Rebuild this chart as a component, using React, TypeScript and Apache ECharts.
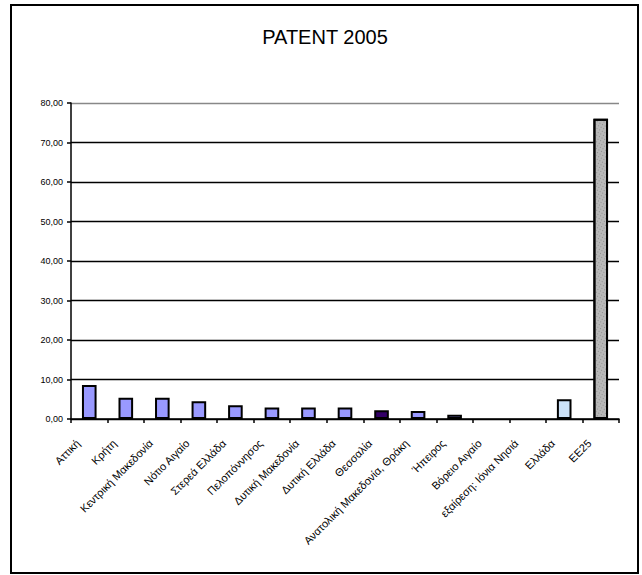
import React, { useEffect, useRef } from "react";
import * as echarts from "echarts";

const categories = [
  "Αττική",
  "Κρήτη",
  "Κεντρική Μακεδονία",
  "Νότιο Αιγαίο",
  "Στερεά Ελλάδα",
  "Πελοπόννησος",
  "Δυτική Μακεδονία",
  "Δυτική Ελλάδα",
  "Θεσσαλία",
  "Ανατολική Μακεδονία, Θράκη",
  "Ήπειρος",
  "Βόρειο Αιγαίο",
  "εξαίρεση: Ιόνια Νησιά",
  "Ελλάδα",
  "ΕΕ25",
];
const values = [8.6, 5.4, 5.4, 4.5, 3.5, 2.9, 2.9, 2.9, 2.2, 2.0, 1.1, 0, 0, 5.0, 76.0];
const barColors = [
  "#9999FF", "#9999FF", "#9999FF", "#9999FF", "#9999FF", "#9999FF", "#9999FF", "#9999FF",
  "#330066", "#9999FF", "#9999FF", "#9999FF", "#9999FF", "#CCE2F8", "#B8B8B8",
];
const yTicks = [0, 10, 20, 30, 40, 50, 60, 70, 80];
const title = "PATENT 2005";

export default function App() {
  const ref = useRef<HTMLDivElement>(null);
  useEffect(() => {
    if (!ref.current) return;
    const chart = echarts.init(ref.current, undefined, { renderer: "svg" });
    const font = "Liberation Sans, Arial, sans-serif";
    chart.setOption({
      animation: false,
      backgroundColor: "#fff",
      aria: { enabled: false, decal: { show: false } },
      graphic: [
        {
          type: "rect",
          shape: { x: 11, y: 5, width: 627, height: 568 },
          style: { fill: "none", stroke: "#000", lineWidth: 2 },
          z: -1,
        },
        {
          type: "text",
          x: 325,
          y: 37,
          style: {
            text: title,
            font: `20px ${font}`,
            fill: "#000",
            textAlign: "center",
            textVerticalAlign: "middle",
          },
        },
      ],
      grid: { left: 71, right: 23, top: 103, bottom: 156, containLabel: false },
      xAxis: {
        type: "category",
        data: categories,
        axisLine: { lineStyle: { color: "#000", width: 1.5 } },
        axisTick: { show: true, length: 4, lineStyle: { color: "#000", width: 1.5 }, alignWithLabel: false },
        axisLabel: {
          interval: 0,
          rotate: 45,
          fontSize: 11,
          fontFamily: font,
          color: "#000",
          margin: 11,
          padding: [0, 16, 0, 0],
        },
      },
      yAxis: {
        type: "value",
        min: 0,
        max: 80,
        interval: 10,
        axisLine: { show: true, lineStyle: { color: "#000", width: 1.5 } },
        axisTick: { show: true, length: 4, lineStyle: { color: "#000", width: 1.5 } },
        axisLabel: {
          fontSize: 9,
          fontFamily: font,
          color: "#000",
          margin: 8,
          formatter: (v: number) => (yTicks.includes(v) ? v.toFixed(2).replace(".", ",") : ""),
        },
        splitLine: {
          show: true,
          lineStyle: {
            color: ["#000", "#000", "#000", "#000", "#000", "#000", "#000", "#000", "#888"],
            width: 1.3,
          },
        },
      },
      series: [
        {
          type: "bar",
          barWidth: "40%",
          data: values.map((v, i) => ({
            value: v,
            itemStyle: {
              color: barColors[i],
              borderColor: "#000",
              borderWidth: v === 0 ? 0 : 2,
              decal:
                i === values.length - 1
                  ? {
                      symbol: "rect",
                      symbolSize: 1,
                      color: "rgba(90,90,90,0.45)",
                      dashArrayX: [1, 2],
                      dashArrayY: [1, 2],
                      rotation: 0.5,
                    }
                  : undefined,
            },
          })),
        },
      ],
    });
    return () => chart.dispose();
  }, []);
  return (
    <div
      ref={ref}
      style={{ position: "fixed", left: 0, top: 0, width: 642, height: 575 }}
    />
  );
}
